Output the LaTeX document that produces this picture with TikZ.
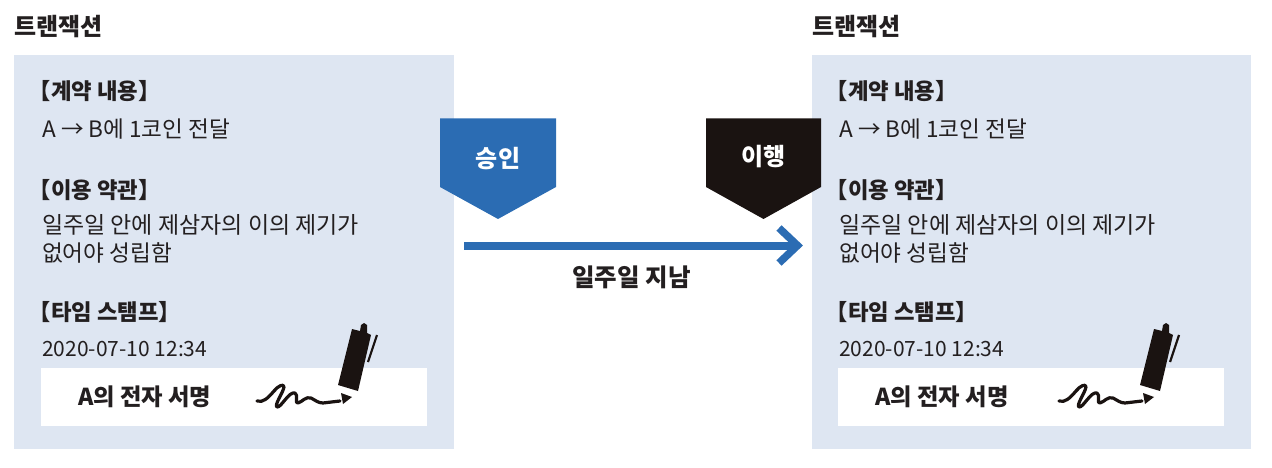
\documentclass[tikz,border=0pt]{standalone}
\usepackage{fontspec}
\setmainfont{Noto Sans CJK KR}
\definecolor{panelblue}{HTML}{DEE6F2}
\definecolor{flagblue}{HTML}{2B6CB3}
\definecolor{flagblack}{HTML}{1A1311}
\definecolor{inktext}{HTML}{231F20}
\tikzset{
  panelbox/.style={fill=panelblue,draw=none},
  whitebox/.style={fill=white,draw=none},
  titletext/.style={anchor=base west,inner sep=0pt,text=inktext,font=\fontsize{24}{24}\selectfont\bfseries},
  headtext/.style={anchor=base west,inner sep=0pt,text=inktext,font=\fontsize{22.3}{22.3}\selectfont\bfseries},
  bodytext/.style={anchor=base west,inner sep=0pt,text=inktext,font=\fontsize{23}{23}\selectfont},
  shorttext/.style={anchor=base west,inner sep=0pt,text=inktext,font=\fontsize{22.6}{22.6}\selectfont},
  datetext/.style={anchor=base west,inner sep=0pt,text=inktext,font=\fontsize{21}{21}\selectfont},
  signtext/.style={anchor=base west,inner sep=0pt,text=inktext,font=\fontsize{23.3}{23.3}\selectfont\bfseries},
  flagtext/.style={inner sep=0pt,text=white,font=\fontsize{24}{24}\selectfont\bfseries},
  steptext/.style={inner sep=0pt,text=inktext,font=\fontsize{24.5}{24.5}\selectfont\bfseries},
}
\newcommand{\txpanel}[4]{%
 % #1 prefix, #2 x offset, #3 box left, #4 box right
 \fill[panelbox] (#3,55) rectangle (#4,449);
 \node[titletext] (#1title) at (#3,36) {트랜잭션};
 \begin{scope}[xshift=#2]
 \node[headtext] (#1h1) at (28.5,100) {【계약 내용】};
 \node[shorttext] (#1b1) at (42,138) {A → B에 1코인 전달};
 \node[headtext] (#1h2) at (28.5,198) {【이용 약관】};
 \node[bodytext] (#1b2) at (42,233.5) {일주일 안에 제삼자의 이의 제기가};
 \node[shorttext] (#1b3) at (42,261.5) {없어야 성립함};
 \node[headtext] (#1h3) at (28.5,320) {【타임 스탬프】};
 \node[datetext] (#1b4) at (42,356.5) {2020-07-10 12:34};
 \fill[whitebox] (41,368) rectangle (427,426);
 \node[signtext] (#1sign) at (78,405) {A의 전자 서명};
 \end{scope}
}
\newcommand{\penmark}[1]{%
 \begin{scope}[xshift=#1]
 \fill[flagblack] (352,329) -- (360,331) -- (361,325) -- (364,323) -- (367,325) -- (367,333) -- (371,335) -- (358,391) -- (338,385) -- cycle;
 \draw[flagblack,line width=2.2pt] (377,335) -- (368,362);
 \fill[flagblack] (341,393) -- (352,397) -- (343,404) -- cycle;
 \draw[flagblack,line width=3.2pt,line cap=round,line join=round]
   (257,401) .. controls (263,403) and (268,398) .. (274,391)
   .. controls (278,386) and (284,383) .. (284,387)
   .. controls (283,393) and (274,405) .. (277,407)
   .. controls (281,408) and (289,391) .. (295,393)
   .. controls (299,395) and (294,404) .. (298,403)
   .. controls (302,402) and (306,396) .. (311,398)
   .. controls (315,400) and (318,403) .. (323,403)
   -- (340,401);
 \end{scope}
}
\begin{document}
\begin{tikzpicture}[x=1pt,y=-1pt]
\useasboundingbox (0,0) rectangle (1272,468);
\txpanel{l}{0}{14}{454}
\txpanel{r}{797}{812}{1251}
\penmark{0}
\penmark{802}
\fill[flagblue] (440,118.5) -- (556,118.5) -- (556,187) -- (498,219) -- (440,187) -- cycle;
\node[flagtext] (approve) at (498,158.5) {승인};
\fill[flagblack] (706,118.5) -- (821,118.5) -- (821,187) -- (763.5,219) -- (706,187) -- cycle;
\node[flagtext] (execute) at (763.5,156.5) {이행};
\coordinate (arrowstart) at (464,245.5);
\coordinate (arrowtip) at (797.5,245.5);
\coordinate (arrowup) at (779,228);
\coordinate (arrowdown) at (779,263);
\draw[flagblue,line width=8pt] (arrowstart) -- (arrowtip);
\draw[flagblue,line width=7.5pt,miter limit=10] (arrowup) -- (arrowtip) -- (arrowdown);
\node[steptext] (week) at (631.5,277.5) {일주일 지남};
\end{tikzpicture}
\end{document}
